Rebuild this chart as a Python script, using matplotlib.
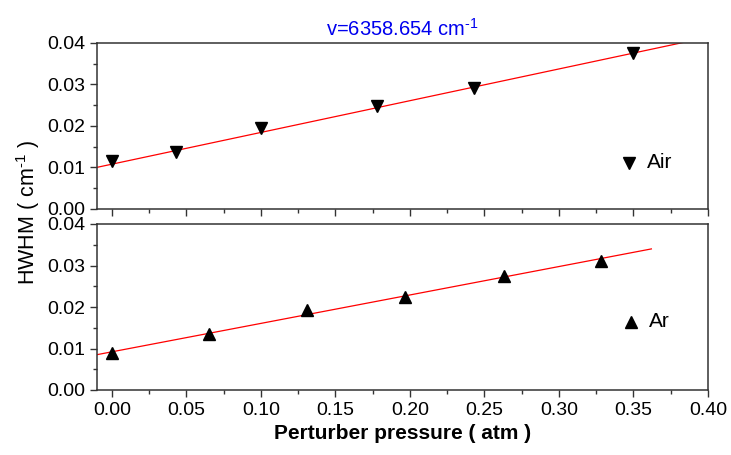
import matplotlib
matplotlib.use('Agg')
import matplotlib.pyplot as plt
import matplotlib.ticker as mtick
import numpy as np

plt.rcParams['font.family'] = ['Liberation Sans', 'DejaVu Sans']
plt.rcParams['mathtext.fontset'] = 'custom'
plt.rcParams['mathtext.rm'] = 'Liberation Sans'
plt.rcParams['mathtext.it'] = 'Liberation Sans:italic'
plt.rcParams['mathtext.bf'] = 'Liberation Sans:bold'

# Air broadening
air_p = [0.0, 0.043, 0.100, 0.178, 0.243, 0.350]
air_hwhm = [0.0115, 0.0138, 0.0195, 0.0247, 0.0292, 0.0377]
air_err = [0.0007, 0.0007, 0.0007, 0.0007, 0.0007, 0.0007]
air_fit = (0.0108, 0.0765)          # intercept, slope
air_fit_range = (-0.01, 0.385)

# Ar broadening
ar_p = [0.0, 0.065, 0.131, 0.197, 0.263, 0.328]
ar_hwhm = [0.0090, 0.0135, 0.0192, 0.0225, 0.0275, 0.0310]
ar_err = [0.0007, 0.0007, 0.0007, 0.0007, 0.0007, 0.0007]
ar_fit = (0.0092, 0.0685)
ar_fit_range = (-0.01, 0.362)

x_ticks = [0.00, 0.05, 0.10, 0.15, 0.20, 0.25, 0.30, 0.35, 0.40]
y_ticks = [0.00, 0.01, 0.02, 0.03, 0.04]

fig = plt.figure(figsize=(7.31, 4.55), dpi=100)
ax1 = fig.add_axes([97 / 731, 1 - 209 / 455, 611 / 731, 166 / 455])
ax2 = fig.add_axes([97 / 731, 1 - 390 / 455, 611 / 731, 166 / 455])


def draw_panel(ax, p, h, err, fit, fit_range, marker, label, leg_pos):
    ax.errorbar(p, h, yerr=err, fmt=marker, color='black', ms=8,
                elinewidth=0.8, capsize=0, zorder=3)
    xs = np.array(fit_range)
    ax.plot(xs, fit[0] + fit[1] * xs, color='red', lw=0.9, zorder=2)
    ax.set_xlim(-0.01, 0.40)
    ax.set_ylim(0.0, 0.04)
    ax.set_xticks(x_ticks)
    ax.set_yticks(y_ticks)
    ax.xaxis.set_minor_locator(mtick.MultipleLocator(0.025))
    ax.yaxis.set_minor_locator(mtick.MultipleLocator(0.005))
    ax.yaxis.set_major_formatter(mtick.FormatStrFormatter('%.2f'))
    ax.xaxis.set_major_formatter(mtick.FormatStrFormatter('%.2f'))
    ax.tick_params(which='major', direction='out', length=5, width=1,
                   labelsize=14, color='#333333')
    ax.tick_params(which='minor', direction='out', length=3, width=1,
                   color='#333333')
    for s in ax.spines.values():
        s.set_color('#333333')
        s.set_linewidth(1.1)
    ax.plot([leg_pos[0]], [leg_pos[1]], marker=marker, color='black', ms=8,
            transform=ax.transAxes, clip_on=False)
    ax.text(leg_pos[0] + 0.03, leg_pos[1], label, transform=ax.transAxes,
            fontsize=15, va='center', ha='left')


draw_panel(ax1, air_p, air_hwhm, air_err, air_fit, air_fit_range, 'v', 'Air',
           (0.87, 0.28))
draw_panel(ax2, ar_p, ar_hwhm, ar_err, ar_fit, ar_fit_range, '^', 'Ar',
           (0.874, 0.41))
ax1.tick_params(labelbottom=False)

ax1.set_title(r'v=6358.654 cm$^{\text{-}1}$', color='#0000ee', fontsize=14.5, pad=5)
ax2.set_xlabel('Perturber pressure ( atm )', fontsize=15, fontweight='bold',
               labelpad=4)
fig.text(28 / 731, 1 - 213 / 455, r'HWHM ( cm$^{\text{-}1}$ )', rotation=90,
         fontsize=15.5, va='center', ha='center')

fig.savefig('out.png', dpi=100)
